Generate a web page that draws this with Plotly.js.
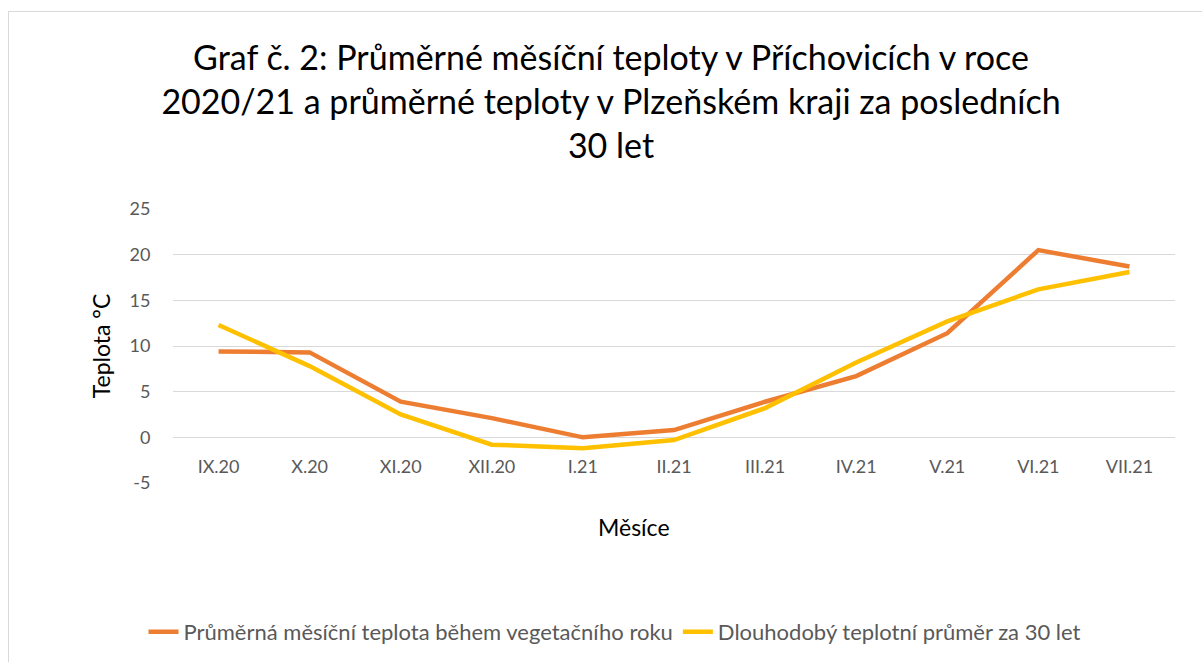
<!DOCTYPE html>
<html>
<head>
<meta charset="utf-8">
<script src="https://cdn.plot.ly/plotly-3.0.1.min.js"></script>
<style>
  html, body { margin: 0; padding: 0; background: #fff; }
  #wrap { position: relative; width: 1202px; height: 662px; overflow: hidden; }
  #chart { width: 1202px; height: 662px; }
  #frame { position: absolute; left: 8px; top: 11px; width: 1300px; height: 700px;
           border-left: 1.5px solid #d9d9d9; border-top: 1.5px solid #d9d9d9; pointer-events: none; }
</style>
</head>
<body>
<div id="wrap">
  <div id="chart"></div>
  <div id="frame"></div>
</div>
<script>
const months = ['IX.20', 'X.20', 'XI.20', 'XII.20', 'I.21', 'II.21', 'III.21', 'IV.21', 'V.21', 'VI.21', 'VII.21'];
const seriesNames = ['Průměrná měsíční teplota během vegetačního roku', 'Dlouhodobý teplotní průměr za 30 let'];
const prichovice = [9.4, 9.3, 3.9, 2.1, 0.0, 0.8, 3.9, 6.7, 11.4, 20.5, 18.7];
const plzenskyKraj = [12.3, 7.8, 2.5, -0.8, -1.2, -0.3, 3.2, 8.2, 12.7, 16.2, 18.1];
const yTickVals = [-5, 0, 5, 10, 15, 20, 25];
const yTickText = ['-5', '0', '5', '10', '15', '20', '25'];

const FONT = 'Lato, Calibri, "Open Sans", sans-serif';

const traces = [
  { x: months, y: prichovice, name: seriesNames[0], type: 'scatter', mode: 'lines',
    line: { color: '#ED7D31', width: 4.5 } },
  { x: months, y: plzenskyKraj, name: seriesNames[1], type: 'scatter', mode: 'lines',
    line: { color: '#FFC000', width: 4.5 } }
];

const layout = {
  width: 1202, height: 662,
  paper_bgcolor: '#ffffff', plot_bgcolor: '#ffffff',
  margin: { l: 173, r: 27, t: 209, b: 179 },
  font: { family: FONT, color: '#595959' },
  title: {
    text: 'Graf č. 2: Průměrné měsíční teploty v Příchovicích v roce<br>2020/21 a průměrné teploty v Plzeňském kraji za posledních<br>30 let',
    font: { family: FONT, size: 34, color: '#000000' },
    x: 611 / 1202, xanchor: 'center', xref: 'container',
    y: 1 - 70 / 662, yanchor: 'top', yref: 'container'
  },
  xaxis: {
    type: 'category',
    range: [-0.5, 10.5],
    anchor: 'free', position: 1 / 6,
    showline: false, showgrid: false, zeroline: false,
    ticks: 'outside', ticklen: 13, tickcolor: 'rgba(0,0,0,0)',
    tickfont: { family: FONT, size: 18, color: '#595959' }
  },
  yaxis: {
    range: [-5, 25],
    tickvals: yTickVals, ticktext: yTickText,
    showgrid: true, gridcolor: '#d9d9d9', gridwidth: 1,
    zeroline: false, showline: false,
    ticks: 'outside', ticklen: 18, tickcolor: 'rgba(0,0,0,0)',
    tickfont: { family: FONT, size: 18, color: '#595959' },
    title: { text: 'Teplota °C', font: { family: FONT, size: 23, color: '#000000' }, standoff: 12 }
  },
  annotations: [
    { text: 'Měsíce', xref: 'paper', yref: 'paper', x: (634 - 173) / 1002, y: (483 - 527) / 274,
      xanchor: 'center', yanchor: 'middle', showarrow: false,
      font: { family: FONT, size: 23, color: '#000000' } }
  ],
  showlegend: true,
  legend: {
    orientation: 'h', xref: 'container', yref: 'container',
    x: 615 / 1202, xanchor: 'center', y: 1 - 632 / 662, yanchor: 'middle',
    font: { family: FONT, size: 22, color: '#595959' },
    bgcolor: 'rgba(0,0,0,0)'
  }
};

Plotly.newPlot('chart', traces, layout, { staticPlot: true, displayModeBar: false });
</script>
</body>
</html>
